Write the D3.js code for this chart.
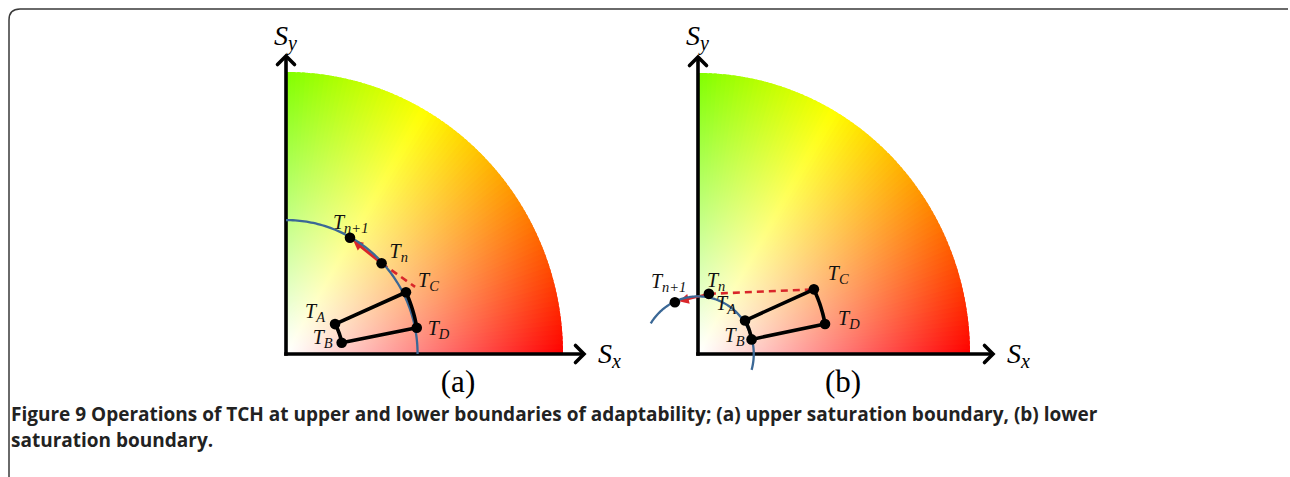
<!DOCTYPE html>
<html><head><meta charset="utf-8">
<script src="https://cdn.jsdelivr.net/npm/d3@7"></script>
<style>html,body{margin:0;padding:0;background:#fff}svg{display:block}</style>
</head><body>
<script>
// ---------- data (normalised: disk radius = 1) ----------
const pointNames = ["n+1", "n", "C", "A", "B", "D"];
const aX = [0.231, 0.345, 0.466, 0.177, 0.201, 0.472];
const aY = [0.412, 0.322, 0.238, 0.106, 0.040, 0.093];
const aCorner = [0.433, 0.219];            // upper corner of the region in (a)
const bX = [-0.085, 0.040, 0.426, 0.173, 0.197, 0.467];
const bY = [0.184, 0.214, 0.230, 0.119, 0.052, 0.107];
const boundaryR = [0.475, 0.205];
const boundaryFrom = [0, -16];
const boundaryTo = [90, 148];
const panelTitles = ["(a)", "(b)"];
const axisSubs = ["x", "y"];
const captionBold = "Figure 9";
const captionLine1 = " Operations of TCH at upper and lower boundaries of adaptability; (a) upper saturation boundary, (b) lower";
const captionLine2 = "saturation boundary.";

// ---------- layout ----------
const W = 1290, H = 477;
const layout = [
  {ox: 286, oy: 354, rx: 277, ry: 282, yTip: 55, xTip: 585, titleX: 458,
   lab: [[-17, -9], [8, -5], [3, 0], [-30, -6], [-29, 1], [11, 7]]},
  {ox: 698, oy: 354, rx: 272, ry: 281, yTip: 56, xTip: 994, titleX: 843,
   lab: [[-24, -14], [-2, -7], [14, -9], [-29, -11], [-27, 3], [13, 1]]}
];
const RED = "#d9262a", BLUE = "#3b6896";

const svg = d3.select("body").append("svg").attr("width", W).attr("height", H);
svg.append("rect").attr("width", W).attr("height", H).attr("fill", "#fff");
const defs = svg.append("defs");

// outer frame (top + left, rounded corner)
svg.append("path").attr("d", "M9,477 V20 Q9,9 20,9 H1288")
  .attr("fill", "none").attr("stroke", "#3a3a3a").attr("stroke-width", 1.5);

const panelData = [
  {xs: aX, ys: aY}, {xs: bX, ys: bY}
];

function polar(p) { return [Math.hypot(p[0], p[1]), Math.atan2(p[1], p[0])]; }
function arcPts(p1, p2, n = 24) {
  const [r1, a1] = polar(p1), [r2, a2] = polar(p2);
  return d3.range(n + 1).map(i => {
    const t = i / n, r = r1 + (r2 - r1) * t, a = a1 + (a2 - a1) * t;
    return [r * Math.cos(a), r * Math.sin(a)];
  });
}

layout.forEach((L, pi) => {
  const x = d3.scaleLinear().domain([0, 1]).range([L.ox, L.ox + L.rx]);
  const y = d3.scaleLinear().domain([0, 1]).range([L.oy, L.oy - L.ry]);
  const line = d3.line().x(d => x(d[0])).y(d => y(d[1]));
  const g = svg.append("g");

  // colour disk: hue follows angle, saturation follows radius
  const disk = g.append("g");
  d3.range(0, 90).forEach(deg => {
    const id = `g${pi}_${deg}`;
    const rg = defs.append("radialGradient").attr("id", id)
      .attr("gradientUnits", "userSpaceOnUse")
      .attr("cx", L.ox).attr("cy", L.oy).attr("r", L.rx)
      .attr("gradientTransform", `translate(${L.ox},${L.oy}) scale(1,${L.ry / L.rx}) translate(${-L.ox},${-L.oy})`);
    rg.append("stop").attr("offset", 0).attr("stop-color", "#ffffff");
    rg.append("stop").attr("offset", 1).attr("stop-color", d3.hsl(deg + 0.5, 1, 0.5).formatHex());
    const a0 = deg * Math.PI / 180, a1 = Math.min(deg + 1.7, 90) * Math.PI / 180;
    const pts = [[0, 0]].concat(d3.range(5).map(i => {
      const a = a0 + (a1 - a0) * i / 4; return [Math.cos(a), Math.sin(a)];
    }));
    disk.append("path").attr("d", line(pts) + "Z").attr("fill", `url(#${id})`);
  });

  // axes with open arrowheads
  const ax = g.append("g").attr("stroke", "#000").attr("stroke-width", 3.6).attr("fill", "none");
  ax.append("path").attr("d", `M${L.ox},${L.oy + 1.8} V${L.yTip + 1}`);
  ax.append("path").attr("d", `M${L.ox - 1.8},${L.oy} H${L.xTip - 1}`);
  ax.append("path").attr("d", `M${L.ox - 8.5},${L.yTip + 9.5} L${L.ox},${L.yTip + 1} L${L.ox + 8.5},${L.yTip + 9.5}`)
    .attr("stroke-linejoin", "miter").attr("stroke-linecap", "round");
  ax.append("path").attr("d", `M${L.xTip - 9.5},${L.oy - 8.5} L${L.xTip - 1},${L.oy} L${L.xTip - 9.5},${L.oy + 8.5}`)
    .attr("stroke-linejoin", "miter").attr("stroke-linecap", "round");

  // axis labels
  const lab = (tx, ty, sub) => {
    const t = g.append("text").attr("x", tx).attr("y", ty)
      .attr("font-family", "Liberation Serif, serif").attr("font-style", "italic")
      .attr("font-size", 28).attr("fill", "#000");
    t.append("tspan").text("S");
    t.append("tspan").attr("font-size", 20).attr("dy", 5).text(sub);
  };
  lab(L.ox - 12, 45, axisSubs[1]);
  lab(L.xTip + 13, 363, axisSubs[0]);

  const D = panelData[pi];
  const P = D.xs.map((v, i) => [v, D.ys[i]]);
  const [Tn1, Tn, TC, TA, TB, TD] = P;

  // red dashed continuation Tn -> TC
  g.append("path").attr("d", line([Tn, TC])).attr("stroke", RED)
    .attr("stroke-width", 2.6).attr("stroke-dasharray", "7 5").attr("fill", "none");

  // red arrow Tn -> Tn+1
  {
    const sx = x(Tn[0]), sy = y(Tn[1]), ex = x(Tn1[0]), ey = y(Tn1[1]);
    const len = Math.hypot(ex - sx, ey - sy), ux = (ex - sx) / len, uy = (ey - sy) / len;
    const tipx = ex - ux * 4, tipy = ey - uy * 4;
    g.append("line").attr("x1", sx).attr("y1", sy).attr("x2", tipx - ux * 6).attr("y2", tipy - uy * 6)
      .attr("stroke", RED).attr("stroke-width", pi === 0 ? 3 : 2.4);
    const hw = 5, hl = 10;
    g.append("path").attr("d",
      `M${tipx},${tipy} L${tipx - ux * hl - uy * hw},${tipy - uy * hl + ux * hw} L${tipx - ux * hl + uy * hw},${tipy - uy * hl - ux * hw}Z`)
      .attr("fill", RED);
  }

  // boundary circle
  const bpts = d3.range(boundaryFrom[pi], boundaryTo[pi] + 0.01, 1).map(dg => {
    const a = dg * Math.PI / 180; return [boundaryR[pi] * Math.cos(a), boundaryR[pi] * Math.sin(a)];
  });
  g.append("path").attr("d", line(bpts)).attr("stroke", BLUE).attr("stroke-width", 2.3).attr("fill", "none");

  // region (annular sector)
  const outerTop = pi === 0 ? aCorner : TC;
  const region = [TA, outerTop].concat(arcPts(outerTop, TD).slice(1)).concat([TB]).concat(arcPts(TB, TA).slice(1));
  g.append("path").attr("d", line(region) + "Z").attr("fill", "none")
    .attr("stroke", "#000").attr("stroke-width", 3.6).attr("stroke-linejoin", "round");

  // dots
  const dots = pi === 0 ? [Tn1, Tn, aCorner, TA, TB, TD] : [Tn1, Tn, TC, TA, TB, TD];
  g.selectAll("circle.dot").data(dots).join("circle").attr("class", "dot")
    .attr("cx", d => x(d[0])).attr("cy", d => y(d[1])).attr("r", 5.3).attr("fill", "#000");

  // point labels
  P.forEach((p, i) => {
    const t = g.append("text").attr("x", x(p[0]) + L.lab[i][0]).attr("y", y(p[1]) + L.lab[i][1])
      .attr("font-family", "Liberation Serif, serif").attr("font-style", "italic")
      .attr("font-size", 20).attr("fill", "#111");
    t.append("tspan").text("T");
    t.append("tspan").attr("font-size", 14.5).attr("dy", 4).text(pointNames[i]);
  });

  // panel title
  g.append("text").attr("x", L.titleX).attr("y", 392).attr("text-anchor", "middle")
    .attr("font-family", "Liberation Serif, serif").attr("font-size", 31).attr("fill", "#000")
    .text(panelTitles[pi]);
});

// caption
const cap = svg.append("g").attr("font-family", "Open Sans, sans-serif").attr("font-size", 19)
  .attr("font-weight", 700).attr("fill", "#222");
const c1 = cap.append("text").attr("x", 11).attr("y", 421);
c1.append("tspan").text(captionBold);
c1.append("tspan").text(captionLine1);
cap.append("text").attr("x", 11).attr("y", 447).text(captionLine2);
</script>
</body></html>
